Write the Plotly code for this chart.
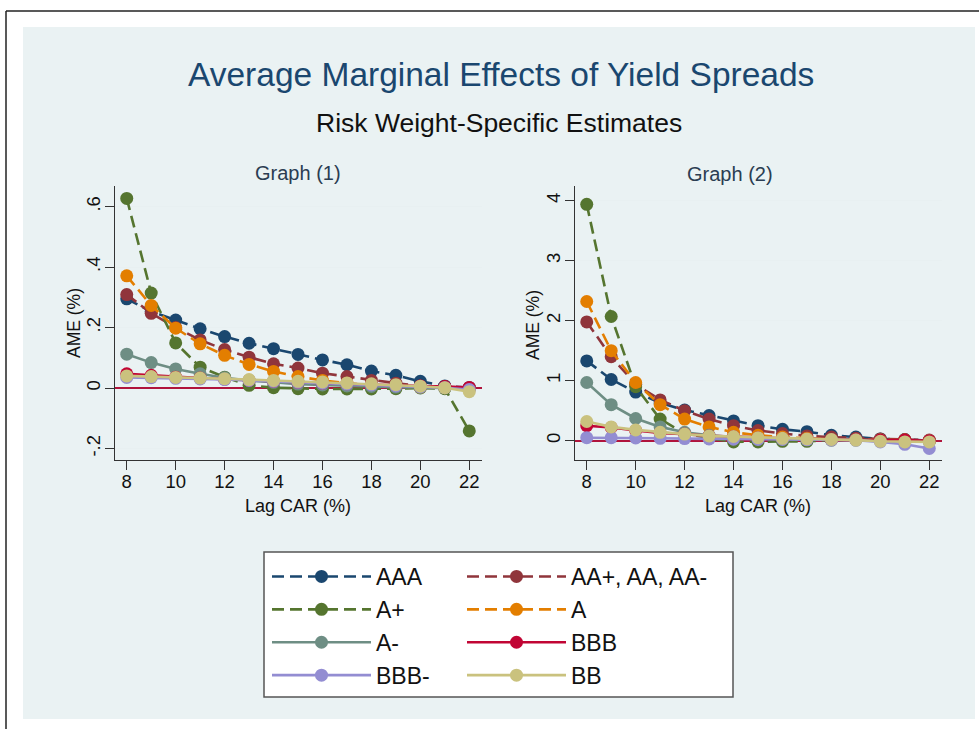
import plotly.graph_objects as go

W, H = 979, 729

# ---------------- data ----------------
lag_car = [8, 9, 10, 11, 12, 13, 14, 15, 16, 17, 18, 19, 20, 21, 22]

series_names = ["AAA", "AA+, AA, AA-", "A+", "A", "A-", "BBB", "BBB-", "BB"]

# Graph (1)
g1_aaa = [0.295, 0.253, 0.225, 0.196, 0.170, 0.148, 0.130, 0.111, 0.093, 0.077, 0.056, 0.042, 0.022, 0.007, 0.001]
g1_aa = [0.309, 0.247, 0.200, 0.159, 0.127, 0.102, 0.080, 0.066, 0.049, 0.038, 0.025, 0.016, 0.007, 0.005, 0.001]
g1_aplus = [0.627, 0.314, 0.149, 0.069, 0.036, 0.009, 0.001, -0.002, -0.003, -0.003, -0.003, -0.002, 0.000, -0.002, -0.142]
g1_a = [0.371, 0.273, 0.198, 0.146, 0.108, 0.078, 0.055, 0.038, 0.025, 0.016, 0.010, 0.005, 0.002, 0.001, -0.002]
g1_aminus = [0.112, 0.084, 0.063, 0.047, 0.034, 0.025, 0.019, 0.013, 0.010, 0.007, 0.005, 0.003, 0.002, 0.001, -0.002]
g1_bbb = [0.047, 0.042, 0.036, 0.033, 0.029, 0.025, 0.022, 0.019, 0.016, 0.014, 0.012, 0.009, 0.007, 0.005, 0.002]
g1_bbbminus = [0.035, 0.034, 0.032, 0.030, 0.028, 0.025, 0.022, 0.019, 0.016, 0.013, 0.010, 0.007, 0.004, 0.001, -0.005]
g1_bb = [0.040, 0.038, 0.035, 0.033, 0.031, 0.028, 0.025, 0.022, 0.020, 0.017, 0.014, 0.011, 0.006, 0.001, -0.012]

# Graph (2)
g2_aaa = [1.33, 1.02, 0.81, 0.63, 0.51, 0.42, 0.33, 0.25, 0.19, 0.15, 0.09, 0.06, 0.03, 0.02, 0.00]
g2_aa = [1.98, 1.40, 0.94, 0.68, 0.50, 0.36, 0.25, 0.17, 0.12, 0.08, 0.06, 0.04, 0.03, 0.02, 0.01]
g2_aplus = [3.94, 2.07, 0.90, 0.36, 0.12, 0.04, -0.02, -0.02, -0.01, -0.01, 0.01, 0.02, 0.01, 0.00, -0.01]
g2_a = [2.32, 1.50, 0.97, 0.60, 0.36, 0.23, 0.14, 0.09, 0.06, 0.04, 0.02, 0.02, 0.01, 0.01, 0.00]
g2_aminus = [0.97, 0.60, 0.37, 0.23, 0.14, 0.09, 0.06, 0.04, 0.03, 0.02, 0.02, 0.01, 0.01, 0.00, 0.00]
g2_bbb = [0.25, 0.22, 0.17, 0.13, 0.11, 0.08, 0.07, 0.05, 0.04, 0.03, 0.02, 0.02, 0.01, 0.01, 0.00]
g2_bbbminus = [0.05, 0.05, 0.045, 0.04, 0.035, 0.03, 0.025, 0.02, 0.02, 0.015, 0.01, 0.01, -0.02, -0.06, -0.13]
g2_bb = [0.32, 0.23, 0.18, 0.14, 0.11, 0.08, 0.07, 0.05, 0.04, 0.03, 0.02, 0.01, -0.01, -0.02, -0.02]

g1_values = [g1_aaa, g1_aa, g1_aplus, g1_a, g1_aminus, g1_bbb, g1_bbbminus, g1_bb]
g2_values = [g2_aaa, g2_aa, g2_aplus, g2_a, g2_aminus, g2_bbb, g2_bbbminus, g2_bb]

g1_tickvals = [-0.2, 0, 0.2, 0.4, 0.6]
g1_ticktext = ["-.2", "0", ".2", ".4", ".6"]
g2_tickvals = [0, 1, 2, 3, 4]
g2_ticktext = ["0", "1", "2", "3", "4"]
x_tickvals = [8, 10, 12, 14, 16, 18, 20, 22]

# ---------------- styles ----------------
colors = ["#1a476f", "#90353b", "#55752f", "#e37e00", "#6e8e84", "#c10534", "#938dd2", "#cac27e"]
DASH = "12px,6px"
dashes = [DASH, DASH, DASH, DASH, "solid", "solid", "solid", "solid"]
legend_of = ["legend", "legend2", "legend", "legend2", "legend", "legend2", "legend", "legend2"]

FONT = "Liberation Sans, Arial, sans-serif"


def px(x):
    return x / W


def py(y):
    return 1 - y / H


fig = go.Figure()

for i, name in enumerate(series_names):
    for panel, vals in enumerate([g1_values[i], g2_values[i]]):
        fig.add_trace(go.Scatter(
            x=lag_car, y=vals, name=name, mode="lines+markers",
            xaxis="x" if panel == 0 else "x2",
            yaxis="y" if panel == 0 else "y2",
            line=dict(color=colors[i], width=2.6, dash=dashes[i]),
            marker=dict(color=colors[i], size=13, line=dict(width=0)),
            legendgroup=name, showlegend=(panel == 0),
            legend=legend_of[i],
        ))

axis_common = dict(
    range=[7.52, 22.52], tickvals=x_tickvals, ticks="outside", ticklen=9,
    tickwidth=1.3, tickcolor="#333", showline=True, linecolor="#333", linewidth=1.3,
    showgrid=False, zeroline=False, ticklabelstandoff=-4,
    tickfont=dict(size=18.5, color="#111", family=FONT),
)
yaxis_common = dict(
    ticks="outside", ticklen=9, tickwidth=1.3, tickcolor="#333", showline=True,
    linecolor="#333", linewidth=1.3, showgrid=True, gridcolor="#e8f0f1", gridwidth=1.2,
    zeroline=True, zerolinecolor="#b0143c", zerolinewidth=1.5, tickangle=-90,
    ticklabelstandoff=-3,
    tickfont=dict(size=18.5, color="#111", family=FONT),
)

ydom = [py(460), py(186)]

legend_common = dict(
    xanchor="left", yanchor="top", bgcolor="rgba(0,0,0,0)", borderwidth=0, itemwidth=99,
    font=dict(size=23, color="#111", family=FONT), traceorder="normal",
    tracegroupgap=0.3, itemclick=False, itemdoubleclick=False,
)

fig.update_layout(
    width=W, height=H,
    margin=dict(l=0, r=0, t=0, b=0),
    paper_bgcolor="white", plot_bgcolor="white",
    font=dict(family=FONT, color="#111"),
    xaxis=dict(domain=[px(115), px(482)], anchor="y", **axis_common),
    xaxis2=dict(domain=[px(575), px(942)], anchor="y2", **axis_common),
    yaxis=dict(domain=ydom, anchor="x", range=[-0.238, 0.668],
               tickvals=g1_tickvals, ticktext=g1_ticktext, **yaxis_common),
    yaxis2=dict(domain=ydom, anchor="x2", range=[-0.322, 4.245],
                tickvals=g2_tickvals, ticktext=g2_ticktext, **yaxis_common),
    legend=dict(x=px(267), y=py(555), **legend_common),
    legend2=dict(x=px(462), y=py(555), **legend_common),
)

shapes = [
    # light background region
    dict(type="rect", xref="paper", yref="paper", x0=px(23), x1=px(975), y0=py(719), y1=py(27),
         fillcolor="#eaf2f3", line=dict(width=0), layer="below"),
    # black frame lines
    dict(type="line", xref="paper", yref="paper", x0=px(6), x1=1, y0=py(11), y1=py(11),
         line=dict(color="#222", width=1.5), layer="below"),
    dict(type="line", xref="paper", yref="paper", x0=px(6), x1=px(6), y0=py(11), y1=0,
         line=dict(color="#222", width=1.5), layer="below"),
    # legend box
    dict(type="rect", xref="paper", yref="paper", x0=px(264), x1=px(733), y0=py(697), y1=py(552),
         fillcolor="white", line=dict(color="#555", width=1.5), layer="below"),
]
fig.update_layout(shapes=shapes)

annotations = [
    dict(text="Average Marginal Effects of Yield Spreads", x=px(501), y=py(75),
         font=dict(size=33.5, color="#1a476f", family=FONT)),
    dict(text="Risk Weight-Specific Estimates", x=px(499), y=py(123),
         font=dict(size=26.5, color="#111", family=FONT)),
    dict(text="Graph (1)", x=px(298), y=py(173), font=dict(size=20, color="#2b3d52", family=FONT)),
    dict(text="Graph (2)", x=px(730), y=py(174), font=dict(size=20, color="#2b3d52", family=FONT)),
    dict(text="AME (%)", x=px(74), y=py(323), textangle=-90, font=dict(size=17.5, color="#111", family=FONT)),
    dict(text="AME (%)", x=px(533), y=py(325), textangle=-90, font=dict(size=17.5, color="#111", family=FONT)),
    dict(text="Lag CAR (%)", x=px(298), y=py(506), font=dict(size=18, color="#111", family=FONT)),
    dict(text="Lag CAR (%)", x=px(758), y=py(506), font=dict(size=18, color="#111", family=FONT)),
]
for a in annotations:
    a.update(xref="paper", yref="paper", showarrow=False, xanchor="center", yanchor="middle")
fig.update_layout(annotations=annotations)

fig.write_html("out.html", config={"displayModeBar": False},
               post_script="document.body.style.margin='0';")
